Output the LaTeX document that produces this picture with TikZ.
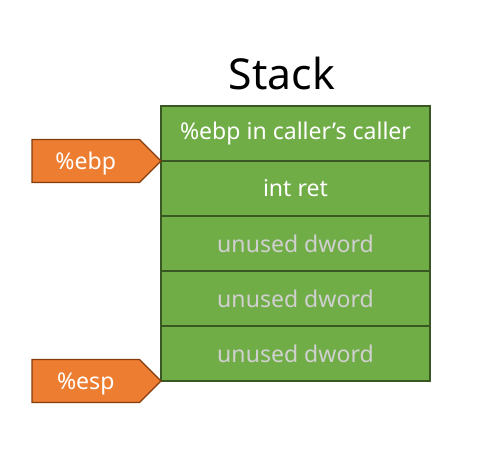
\documentclass[tikz,border=0pt]{standalone}
\usepackage{fontspec}
\setmainfont{Noto Sans}
\usetikzlibrary{positioning,shapes.symbols}

\definecolor{slotgreen}{HTML}{70AD47}
\definecolor{slotline}{HTML}{385723}
\definecolor{regorange}{HTML}{ED7D31}
\definecolor{regline}{HTML}{843C0C}
\definecolor{unusedgray}{HTML}{D0D0D0}

\begin{document}
\begin{tikzpicture}[x=0.75pt, y=-0.75pt,
    slot/.style={draw=slotline, fill=slotgreen, line width=0.9pt, minimum width=269*0.75pt, minimum height=55*0.75pt,
      inner sep=0pt, outer sep=0pt, text=white, font=\fontsize{17.3}{21}\selectfont},
    unused/.style={slot, text=unusedgray},
    reg/.style={signal, signal to=east, signal pointer angle=90, draw=regline, fill=regorange, line width=0.9pt,
      minimum width=129*0.75pt, minimum height=43*0.75pt, inner sep=0pt, outer sep=0pt, text=white,
      font=\fontsize{17.3}{21}\selectfont}]
  \useasboundingbox (0,0) rectangle (491,459);
  % the stack, top slot first
  \node[slot] (saved) at (295.5,133.5) {\%ebp in caller’s caller};
  \node[slot, below=0pt of saved] (ret) {int ret};
  \node[unused, below=0pt of ret] (dwa) {unused dword};
  \node[unused, below=0pt of dwa] (dwb) {unused dword};
  \node[unused, below=0pt of dwb] (dwc) {unused dword};
  \draw[slotline, line width=1.8pt] (ret.south west) -- (ret.south east);
  \node[font=\fontsize{32}{38}\selectfont, anchor=base] (title) at (282,90) {Stack};
  % registers pointing into the stack
  \node[reg, anchor=east, text depth=0pt] (ebp) at (saved.south west) {\%ebp};
  \node[reg, anchor=east, text depth=0pt] (esp) at (dwc.south west) {\%esp};
\end{tikzpicture}
\end{document}
